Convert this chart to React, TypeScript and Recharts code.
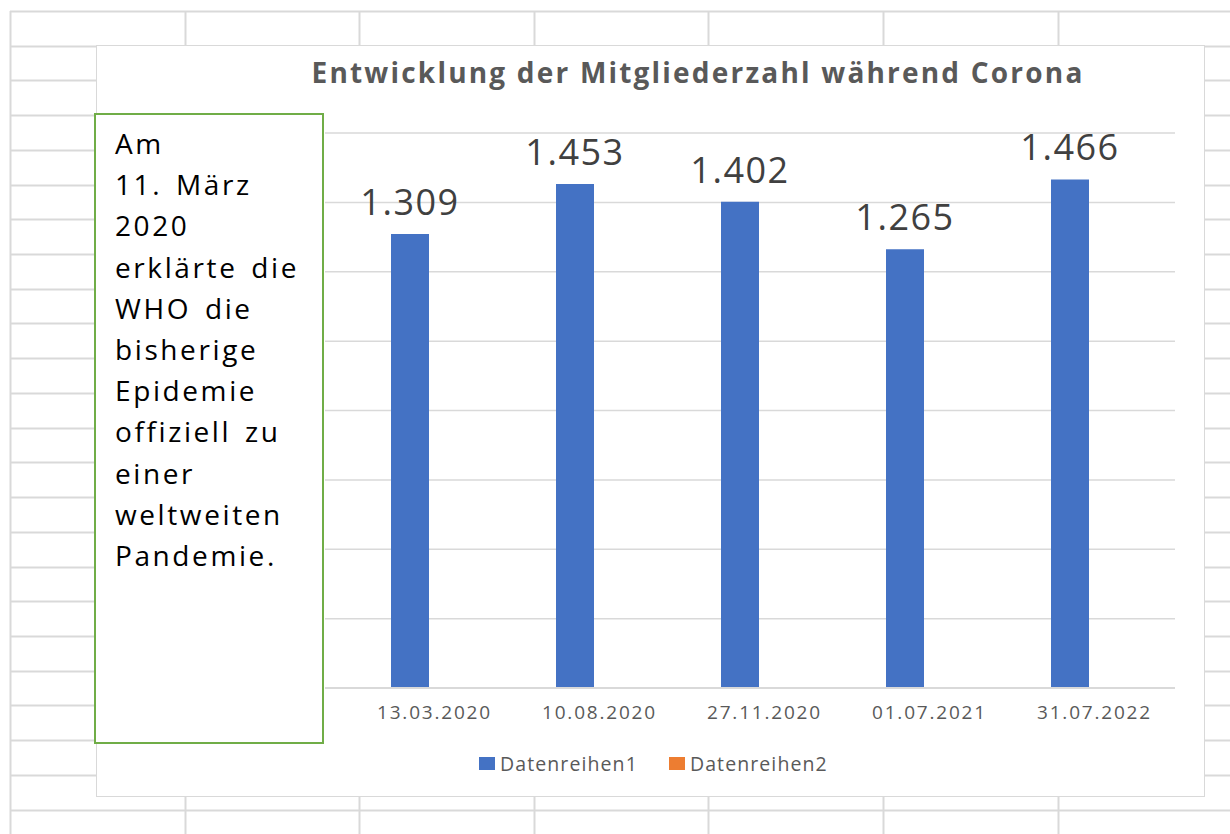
import { BarChart, Bar, XAxis, YAxis, CartesianGrid, Legend, LabelList } from "recharts"

const dates = ["13.03.2020", "10.08.2020", "27.11.2020", "01.07.2021", "31.07.2022"]
const members = [1309, 1453, 1402, 1265, 1466]
const series2: (number | null)[] = [null, null, null, null, null]
const yTicks = [0, 200, 400, 600, 800, 1000, 1200, 1400, 1600]
const noteLines = [
  "Am",
  "11. März",
  "2020",
  "erklärte die",
  "WHO die",
  "bisherige",
  "Epidemie",
  "offiziell zu",
  "einer",
  "weltweiten",
  "Pandemie.",
]

const data = dates.map((d, i) => ({ date: d, Datenreihen1: members[i], Datenreihen2: series2[i] }))

const FONT = "'Open Sans', 'Liberation Sans', sans-serif"
const SHEET_LINE = "#d9d9d9"

// thousands separator like German Excel
const fmt = (v: any) => String(v).replace(/\B(?=(\d{3})+(?!\d))/g, ".")

// excel sheet background
function Sheet() {
  const rows = Array.from({ length: 24 }, (_, i) => 11 + i * 34.72)
  const cols = Array.from({ length: 8 }, (_, i) => 10 + i * 174.6)
  return (
    <svg width={1230} height={834} style={{ position: "absolute", left: 0, top: 0 }}>
      {rows.map((y) => (
        <line key={"r" + y} x1={10} x2={1230} y1={Math.round(y) + 0.5} y2={Math.round(y) + 0.5} stroke={SHEET_LINE} strokeWidth={2} />
      ))}
      {cols.map((x) => (
        <line key={"c" + x} x1={Math.round(x) + 0.5} x2={Math.round(x) + 0.5} y1={11} y2={834} stroke={SHEET_LINE} strokeWidth={2} />
      ))}
    </svg>
  )
}

function LegendContent(props: any) {
  const items = props.payload || []
  return (
    <div style={{ display: "flex", gap: 31, fontFamily: FONT, fontSize: 19.5, color: "#595959", letterSpacing: 1.1 }}>
      {items.map((p: any) => (
        <div key={p.value} style={{ display: "flex", alignItems: "center", gap: 5 }}>
          <span style={{ display: "inline-block", width: 16, height: 13, background: p.color }} />
          <span>{p.value}</span>
        </div>
      ))}
    </div>
  )
}

export default function App() {
  return (
    <div style={{ position: "absolute", left: 0, top: 0, width: 1230, height: 834, background: "#fff", overflow: "hidden" }}>
      <Sheet />
      {/* chart area */}
      <div
        style={{
          position: "absolute",
          left: 96,
          top: 45,
          width: 1109,
          height: 752,
          background: "#fff",
          border: "1px solid #d9d9d9",
          boxSizing: "border-box",
        }}
      />
      <div
        style={{
          position: "absolute",
          left: 96,
          top: 53,
          width: 1204,
          textAlign: "center",
          fontFamily: FONT,
          fontWeight: 700,
          fontSize: 28,
          color: "#595959",
          letterSpacing: 2.2,
        }}
      >
        Entwicklung der Mitgliederzahl während Corona
      </div>
      <div style={{ position: "absolute", left: 0, top: 0 }}>
        <BarChart
          width={1230}
          height={834}
          data={data}
          margin={{ top: 133, right: 55, bottom: 116, left: 325 }}
          barGap={0}
          barSize={38}
        >
          <CartesianGrid horizontal vertical={false} stroke="#d9d9d9" strokeWidth={1.5} />
          <XAxis
            dataKey="date"
            height={30}
            padding={{ left: 21, right: 4 }}
            axisLine={{ stroke: "#d9d9d9", strokeWidth: 2 }}
            tickLine={false}
            tickMargin={12}
            dx={6}
            tick={{ fill: "#595959", fontSize: 19, fontFamily: FONT, letterSpacing: 1.8 }}
          />
          <YAxis hide domain={[0, 1600]} ticks={yTicks} />
          <Legend
            verticalAlign="middle"
            align="center"
            layout="horizontal"
            wrapperStyle={{ left: 479, top: 750, width: "auto" }}
            content={<LegendContent />}
          />
          <Bar dataKey="Datenreihen1" fill="#4472c4" isAnimationActive={false}>
            <LabelList
              dataKey="Datenreihen1"
              position="top"
              offset={19}
              formatter={fmt}
              style={{ fill: "#404040", fontSize: 36, fontFamily: FONT, letterSpacing: 1.5 }}
            />
          </Bar>
          <Bar dataKey="Datenreihen2" fill="#ed7d31" isAnimationActive={false} />
        </BarChart>
      </div>
      {/* annotation text box */}
      <div
        style={{
          position: "absolute",
          left: 94,
          top: 113,
          width: 230,
          height: 631,
          boxSizing: "border-box",
          border: "2px solid #70ad47",
          background: "#fff",
          padding: "8px 0 0 19px",
          fontFamily: FONT,
          fontSize: 28,
          lineHeight: "41.2px",
          color: "#000",
          letterSpacing: 2.6,
          wordSpacing: 4,
          whiteSpace: "nowrap",
        }}
      >
        {noteLines.map((l) => (
          <div key={l}>{l}</div>
        ))}
      </div>
    </div>
  )
}
